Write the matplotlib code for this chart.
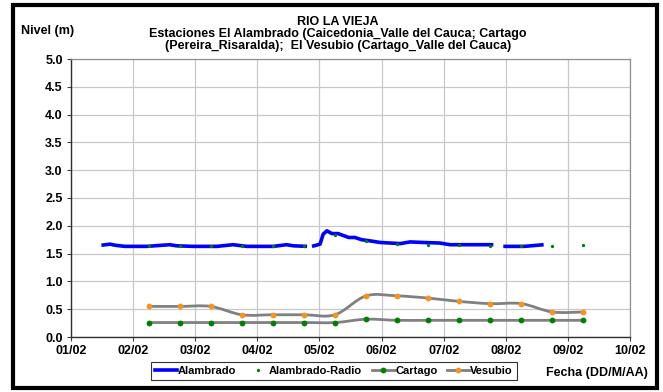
import numpy as np
import matplotlib
matplotlib.use("Agg")
import matplotlib.pyplot as plt
from matplotlib.path import Path
from matplotlib.patches import PathPatch, Rectangle
from matplotlib.lines import Line2D

plt.rcParams['font.family'] = ['Liberation Sans', 'DejaVu Sans']
plt.rcParams['font.weight'] = 'bold'

# days since 01/02 (x axis)
alam_x = [0.49, 0.63, 0.71, 0.87, 1.22, 1.59, 1.70, 1.97, 2.35, 2.61, 2.83, 3.26, 3.47, 3.58, 3.80, np.nan,
          3.88, 4.01, 4.06, 4.12, 4.20, 4.30, 4.47, 4.57, 4.68, 4.81, 4.98, 5.30, 5.46, 5.67, 5.94, 6.10,
          6.75, 6.80, np.nan, 6.96, 7.30, 7.61]
alam_y = [1.65, 1.67, 1.65, 1.63, 1.63, 1.66, 1.64, 1.63, 1.63, 1.66, 1.63, 1.63, 1.66, 1.64, 1.63, np.nan,
          1.63, 1.67, 1.85, 1.91, 1.86, 1.86, 1.79, 1.79, 1.75, 1.73, 1.70, 1.68, 1.71, 1.70, 1.69, 1.66,
          1.66, 1.66, np.nan, 1.63, 1.63, 1.66]

obs_x = [1.25, 1.75, 2.25, 2.75, 3.25, 3.75, 4.25, 4.75, 5.25, 5.75, 6.25, 6.75, 7.25, 7.75, 8.25]
radio_y = [1.63, 1.63, 1.63, 1.63, 1.64, 1.63, 1.84, 1.73, 1.67, 1.66, 1.65, 1.64, 1.63, 1.63, 1.65]
cartago_y = [0.26, 0.26, 0.26, 0.26, 0.26, 0.26, 0.26, 0.32, 0.30, 0.30, 0.30, 0.30, 0.30, 0.30, 0.30]
vesubio_y = [0.55, 0.55, 0.55, 0.40, 0.40, 0.40, 0.40, 0.74, 0.74, 0.70, 0.64, 0.60, 0.60, 0.45, 0.45]

xlabels = ['01/02', '02/02', '03/02', '04/02', '05/02', '06/02', '07/02', '08/02', '09/02', '10/02']
yticks = np.arange(0, 5.01, 0.5)

W, H = 663, 392
fig = plt.figure(figsize=(W / 100, H / 100), dpi=100)
ax = fig.add_axes([71 / W, 1 - 337 / H, (630 - 71) / W, (337 - 59) / H])


def smooth_line(ax, xs, ys, **kw):
    # excel-like smoothed line: bezier segments through the points
    p = np.column_stack([xs, ys])
    n = len(p)
    verts = [p[0]]
    codes = [Path.MOVETO]
    for i in range(n - 1):
        p0 = p[i - 1] if i > 0 else p[i]
        p3 = p[i + 2] if i + 2 < n else p[i + 1]
        c1 = p[i] + (p[i + 1] - p0) / 6
        c2 = p[i + 1] - (p3 - p[i]) / 6
        verts += [c1, c2, p[i + 1]]
        codes += [Path.CURVE4] * 3
    ax.add_patch(PathPatch(Path(verts, codes), fill=False, **kw))


ax.plot(alam_x, alam_y, color='#0000FF', lw=2.6, zorder=3, solid_capstyle='butt', solid_joinstyle='round')
ax.plot(obs_x, radio_y, ls='none', marker='o', ms=2.4, color='#008000', mec='none', zorder=4)

smooth_line(ax, obs_x, cartago_y, edgecolor='#808080', lw=2.0, zorder=3)
ax.plot(obs_x, cartago_y, ls='none', marker='o', ms=4.2, color='#008000', mec='none', zorder=4)
smooth_line(ax, obs_x, vesubio_y, edgecolor='#808080', lw=2.0, zorder=3)
ax.plot(obs_x, vesubio_y, ls='none', marker='o', ms=4.2, color='#F7921E', mec='none', zorder=4)

ax.set_xlim(0, 9)
ax.set_ylim(0, 5)
ax.set_xticks(range(10))
ax.set_xticklabels(xlabels)
ax.set_yticks(yticks)
ax.set_yticklabels([f'{v:.1f}' for v in yticks])
ax.tick_params(labelsize=9, length=3, width=0.8, color='#404040', pad=3)
ax.grid(True, color='#C8C8C8', lw=0.9)
ax.set_axisbelow(True)
for s in ['top', 'right']:
    ax.spines[s].set_color('#909090')
    ax.spines[s].set_linewidth(0.9)
for s in ['left', 'bottom']:
    ax.spines[s].set_color('#303030')
    ax.spines[s].set_linewidth(1.0)

fig.text(338 / W, 1 - 22 / H, 'RIO LA VIEJA', ha='center', va='center', fontsize=9, fontweight='bold')
fig.text(338 / W, 1 - 34 / H, 'Estaciones El Alambrado (Caicedonia_Valle del Cauca; Cartago',
         ha='center', va='center', fontsize=9, fontweight='bold')
fig.text(338 / W, 1 - 46 / H, '(Pereira_Risaralda);  El Vesubio (Cartago_Valle del Cauca)',
         ha='center', va='center', fontsize=9, fontweight='bold')
fig.text(21 / W, 1 - 31 / H, 'Nivel (m)', ha='left', va='center', fontsize=9, fontweight='bold')
fig.text(648 / W, 1 - 373 / H, 'Fecha (DD/M/AA)', ha='right', va='center', fontsize=9, fontweight='bold')

handles = [
    Line2D([], [], color='#0000FF', lw=2.6),
    Line2D([], [], ls='none', marker='o', ms=2.4, color='#008000', mec='none'),
    Line2D([], [], color='#808080', lw=2.0, marker='o', ms=4.2, mfc='#008000', mec='none'),
    Line2D([], [], color='#808080', lw=2.0, marker='o', ms=4.2, mfc='#F7921E', mec='none'),
]
names = ['Alambrado', 'Alambrado-Radio', 'Cartago', 'Vesubio']
leg = fig.legend(handles, names, loc='center', bbox_to_anchor=(334 / W, 1 - 371 / H), ncol=4,
                 fontsize=8, frameon=True, fancybox=False, edgecolor='black', borderpad=0.4,
                 handlelength=2.0, handletextpad=0.05, columnspacing=0.9, borderaxespad=0)
leg.get_frame().set_linewidth(0.8)

fig.patches.append(Rectangle((12.5 / W, 1 - 388 / H), (657 - 12.5) / W, (388 - 5) / H,
                             transform=fig.transFigure, fill=False, edgecolor='black', lw=3))

fig.savefig('out.png', dpi=100)
